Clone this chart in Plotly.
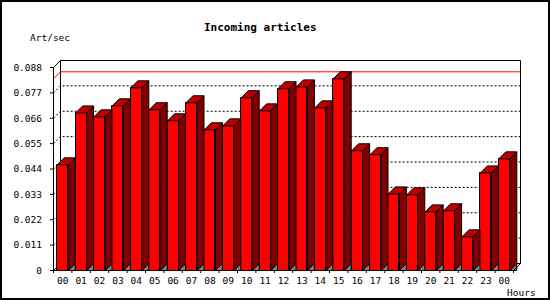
import plotly.graph_objects as go

# ---------------- data ----------------
hours = ["00", "01", "02", "03", "04", "05", "06", "07", "08", "09", "10", "11",
         "12", "13", "14", "15", "16", "17", "18", "19", "20", "21", "22", "23", "00"]
rates = [0.0458, 0.0683, 0.0666, 0.0714, 0.0792, 0.0697, 0.0649, 0.0727,
         0.0610, 0.0627, 0.0749, 0.0692, 0.0788, 0.0796, 0.0705, 0.0831,
         0.0519, 0.0502, 0.0332, 0.0328, 0.0254, 0.0259, 0.0146, 0.0423, 0.0484]
y_tick_values = [0, 0.011, 0.022, 0.033, 0.044, 0.055, 0.066, 0.077, 0.088]
y_tick_labels = ["0", "0.011", "0.022", "0.033", "0.044", "0.055", "0.066", "0.077", "0.088"]
title_text = "Incoming articles"
y_title = "Art/sec"
x_title = "Hours"

# ---------------- geometry ----------------
W, H = 550, 300
L, R, T, B = 50, 26, 57, 27
PW, PH = W - L - R, H - T - B
SLOT_PX = 18.4           # px per category
X0_PX, Y0_PX = 53.5, 270.5  # front axis origin in px (pixel centres)
Y_PX = 203.0 / 0.088     # px per y unit
DEPTH_PX = 7.0
dx = DEPTH_PX / SLOT_PX
dy = DEPTH_PX / Y_PX
FACE_W = 11.0 / SLOT_PX

x_range = [-0.5 - (X0_PX - L) / SLOT_PX, -0.5 + (L + PW - X0_PX) / SLOT_PX]
y_range = [-(T + PH - Y0_PX) / Y_PX, (Y0_PX - T) / Y_PX]

n = len(rates)
idx = list(range(n))
ymax_tick = y_tick_values[-1]
x_left, x_right = -0.5, n - 0.5

RED, TOP, SIDE, GRAY = "#ff0000", "#c00000", "#800000", "#808080"
FONT = "DejaVu Sans Mono"


def px_x(px):
    return (px - L) / PW


def px_y(py):
    return (T + PH - py) / PH


fig = go.Figure()

# shadows (gray triangles under the side faces)
gx, gy = [], []
for i in idx:
    r = i + FACE_W / 2
    gx += [r, r + dx, r + dx, r, None]
    gy += [0, 0, dy, 0, None]
fig.add_trace(go.Scatter(x=gx, y=gy, mode="lines", fill="toself", fillcolor=GRAY,
                         line=dict(color="black", width=1), hoverinfo="skip"))

# side faces
sx, sy = [], []
for i, v in zip(idx, rates):
    r = i + FACE_W / 2
    sx += [r, r + dx, r + dx, r, r, None]
    sy += [0, dy, v + dy, v, 0, None]
fig.add_trace(go.Scatter(x=sx, y=sy, mode="lines", fill="toself", fillcolor=SIDE,
                         line=dict(color="black", width=1), hoverinfo="skip"))

# top faces
tx, ty = [], []
for i, v in zip(idx, rates):
    l_, r = i - FACE_W / 2, i + FACE_W / 2
    tx += [l_, l_ + dx, r + dx, r, l_, None]
    ty += [v, v + dy, v + dy, v, v, None]
fig.add_trace(go.Scatter(x=tx, y=ty, mode="lines", fill="toself", fillcolor=TOP,
                         line=dict(color="black", width=1), hoverinfo="skip"))

# front faces
fig.add_trace(go.Bar(x=idx, y=rates, width=FACE_W, marker=dict(color=RED,
                     line=dict(color="black", width=1)), hoverinfo="skip"))

shapes = []
# back frame
shapes.append(dict(type="rect", xref="x", yref="y", layer="below",
                   x0=x_left + dx, x1=x_right + dx, y0=dy, y1=ymax_tick + dy,
                   line=dict(color="black", width=1)))
# floor slant on the left
shapes.append(dict(type="line", xref="x", yref="y", layer="below",
                   x0=x_left, y0=0, x1=x_left + dx, y1=dy,
                   line=dict(color="black", width=1)))
# dotted grid lines
for t in y_tick_values[1:-1]:
    shapes.append(dict(type="path", xref="x", yref="y", layer="below",
                       path=f"M{x_left},{t} L{x_left + dx},{t + dy} L{x_right + dx},{t + dy}",
                       line=dict(color="black", width=1, dash="2px,2px")))
# red max line
m = max(rates)
shapes.append(dict(type="path", xref="x", yref="y", layer="below",
                   path=f"M{x_left},{m} L{x_left + dx},{m + dy} L{x_right + dx},{m + dy}",
                   line=dict(color="#ff0000", width=1)))
# front axes
shapes.append(dict(type="path", xref="x", yref="y", layer="above",
                   path=f"M{x_left + dx},{ymax_tick + dy} L{x_left},{ymax_tick} L{x_left},0 "
                        f"L{x_right},0 L{x_right + dx},{dy}",
                   line=dict(color="black", width=1)))
# y tick marks
for t in y_tick_values:
    shapes.append(dict(type="line", xref="x", yref="y", layer="above",
                       x0=x_left - 3.5 / SLOT_PX, x1=x_left, y0=t, y1=t,
                       line=dict(color="black", width=1)))
# x tick marks at slot boundaries
for i in range(n + 1):
    shapes.append(dict(type="line", xref="x", yref="y", layer="above",
                       x0=i - 0.5, x1=i - 0.5, y0=0, y1=-3.5 / Y_PX,
                       line=dict(color="black", width=1)))
# outer border
shapes.append(dict(type="rect", xref="paper", yref="paper",
                   x0=px_x(1), x1=px_x(549), y0=px_y(299), y1=px_y(1),
                   line=dict(color="black", width=2)))

annotations = [
    dict(text=f"<b>{title_text}</b>", xref="paper", yref="paper", x=px_x(260), y=px_y(27),
         xanchor="center", yanchor="middle", showarrow=False,
         font=dict(family=FONT, size=11, color="black")),
    dict(text=y_title, xref="paper", yref="paper", x=px_x(28), y=px_y(37.5),
         xanchor="left", yanchor="middle", showarrow=False,
         font=dict(family=FONT, size=9.5, color="black")),
    dict(text=x_title, xref="paper", yref="paper", x=px_x(538), y=px_y(292),
         xanchor="right", yanchor="middle", showarrow=False,
         font=dict(family=FONT, size=9.5, color="black")),
]

fig.update_layout(
    width=W, height=H,
    margin=dict(l=L, r=R, t=T, b=B, pad=0, autoexpand=False),
    paper_bgcolor="white", plot_bgcolor="white",
    showlegend=False, bargap=0,
    shapes=shapes, annotations=annotations,
    xaxis=dict(range=x_range, tickmode="array", tickvals=idx, ticktext=hours,
               ticks="", showgrid=False, zeroline=False, showline=False,
               tickfont=dict(family=FONT, size=9.5, color="black"),
               ticklabelstandoff=0, fixedrange=True),
    yaxis=dict(range=y_range, tickmode="array", tickvals=y_tick_values,
               ticktext=y_tick_labels, ticks="", showgrid=False, zeroline=False,
               showline=False, tickfont=dict(family=FONT, size=9.5, color="black"),
               ticklabelstandoff=7, fixedrange=True),
)

fig.write_html("out.html")
